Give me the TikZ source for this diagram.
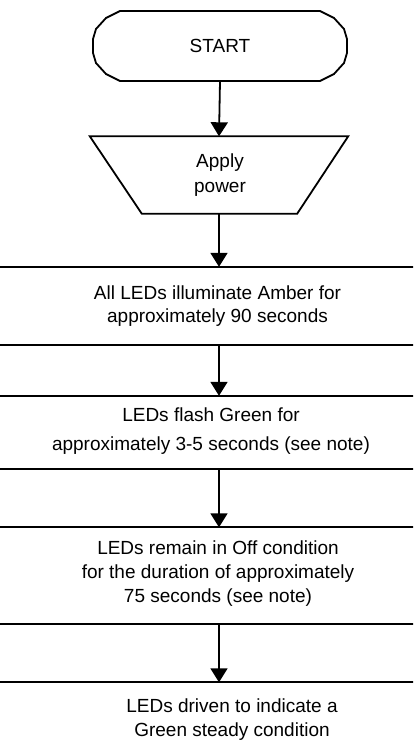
\documentclass[tikz,border=0pt]{standalone}
\usepackage{fontspec}
\setmainfont{Liberation Sans}
\usetikzlibrary{arrows.meta,calc}

\tikzset{
  outline/.style={line width=1.8pt, line join=miter},
  frame/.style={rectangle, draw=none, inner sep=0pt, minimum width=520pt},
  anchorbox/.style={rectangle, draw=none, inner sep=0pt},
  flow/.style={line width=1.8pt, -{Triangle[width=17pt,length=14pt]}},
  txt/.style={align=center, inner sep=0pt, font=\fontsize{19}{#1}\selectfont},
}

\begin{document}
\begin{tikzpicture}[x=1pt, y=-1pt]
  \useasboundingbox (0,0) rectangle (413,756);
  \clip (0,0) rectangle (413,756);

  % terminal: START
  \node[anchorbox, minimum width=254pt, minimum height=70pt] (start) at (220,46) {};
  \draw[outline] ($(start.center)+(-100,-35)$) -- ($(start.center)+(100,-35)$)
    -- ($(start.center)+(114,-28)$) -- ($(start.center)+(124,-17)$)
    -- ($(start.center)+(127,-7)$) -- ($(start.center)+(127,7)$)
    -- ($(start.center)+(124,17)$) -- ($(start.center)+(114,28)$)
    -- ($(start.center)+(100,35)$) -- ($(start.center)+(-100,35)$)
    -- ($(start.center)+(-114,28)$) -- ($(start.center)+(-124,17)$)
    -- ($(start.center)+(-127,7)$) -- ($(start.center)+(-127,-7)$)
    -- ($(start.center)+(-124,-17)$) -- ($(start.center)+(-114,-28)$) -- cycle;
  \node[txt=22] (tstart) at (220,46) {START};

  % manual operation: Apply power
  \node[anchorbox, minimum width=258pt, minimum height=77pt] (trap) at (219,175) {};
  \draw[outline] (trap.north west) -- (trap.north east)
    -- ($(trap.south east)+(-51,0)$) -- ($(trap.south west)+(52,0)$) -- cycle;
  \node[txt=25] (tapply) at (220,175.5) {Apply\\power};

  % process boxes
  \node[frame, minimum height=77.5pt] (boxA) at (219,305.75) {};
  \draw[outline] (boxA.north west) rectangle (boxA.south east);
  \node[txt=23] (tA) at (217.5,306.5) {All LEDs illuminate Amber for\\approximately 90 seconds};

  \node[frame, minimum height=73pt] (boxB) at (219,432.5) {};
  \draw[outline] (boxB.north west) rectangle (boxB.south east);
  \node[txt=29] (tB) at (211,431.5) {LEDs flash Green for\\approximately 3-5 seconds (see note)};

  \node[frame, minimum height=96pt] (boxC) at (219,575.5) {};
  \draw[outline] (boxC.north west) rectangle (boxC.south east);
  \node[txt=24] (tC) at (218,574) {LEDs remain in Off condition\\for the duration of approximately\\75 seconds (see note)};

  \node[frame, minimum height=120pt] (boxD) at (219,742.5) {};
  \draw[outline] (boxD.north west) rectangle (boxD.south east);
  \node[txt=24] (tD) at (232,720) {LEDs driven to indicate a\\Green steady condition};

  % connectors
  \draw[flow] (start.south) -- (trap.north);
  \draw[flow] (trap.south) -- (boxA.north);
  \draw[flow] (boxA.south) -- (boxB.north);
  \draw[flow] (boxB.south) -- (boxC.north);
  \draw[flow] (boxC.south) -- (boxD.north);
\end{tikzpicture}
\end{document}
